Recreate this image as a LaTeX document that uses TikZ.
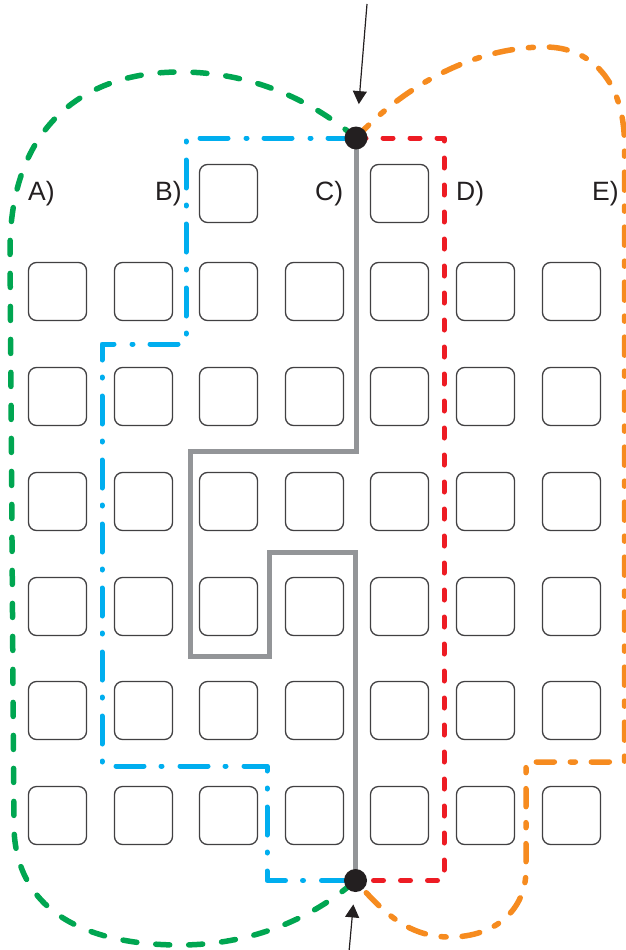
\documentclass[tikz,border=0pt]{standalone}
\usepackage{fontspec}
\setmainfont{Liberation Sans}
\usetikzlibrary{arrows.meta}
\definecolor{pgreen}{HTML}{00A651}
\definecolor{pblue}{HTML}{00AEEF}
\definecolor{pred}{HTML}{ED1C24}
\definecolor{porange}{HTML}{F68B1F}
\definecolor{pgray}{HTML}{939598}
\definecolor{pdark}{HTML}{231F20}
\definecolor{pbox}{HTML}{414042}
\tikzset{
  seat/.style={draw=pbox, line width=1.3pt, rounded corners=8pt, minimum size=58pt, inner sep=0pt},
  lbl/.style={anchor=base west, inner sep=0pt, text=pdark, font=\fontsize{26.5}{30}\selectfont},
  junction/.style={circle, fill=pdark, minimum size=23pt, inner sep=0pt},
  greenpath/.style={draw=pgreen, line width=5.5pt, line cap=round, dash pattern=on 14pt off 19pt},
  bluepath/.style={draw=pblue, line width=5pt, line cap=round, line join=round, dash pattern=on 28pt off 17pt on 1pt off 18pt},
  redpath/.style={draw=pred, line width=5pt, line cap=round, line join=round, dash pattern=on 10pt off 17pt},
  orangepath/.style={draw=porange, line width=5.5pt, line cap=round, line join=round, dash pattern=on 18pt off 16pt on 5pt off 16pt},
  graypath/.style={draw=pgray, line width=5pt, line join=miter},
  pointer/.style={draw=pdark, line width=1.2pt, -{Triangle[width=14pt,length=13pt]}},
}
\begin{document}
\begin{tikzpicture}[x=1pt,y=-1pt]
\useasboundingbox (0,0) rectangle (626,950);
\clip (0,0) rectangle (626,950);

% seats
\foreach \r/\y in {1/262,2/367,3/472,4/577,5/681,6/786}{
  \foreach \c/\x in {1/28,2/114,3/199,4/285,5/370,6/456,7/542}{
    \node[seat] (s\r\c) at (\x+29.5,\y+29.5) {};
  }
}
\node[seat] (s03) at (228.5,193.5) {};
\node[seat] (s05) at (399.5,193.5) {};

% labels
\node[lbl] (la) at (28,200) {A)};
\node[lbl] (lb) at (155,200) {B)};
\node[lbl] (lc) at (315,200) {C)};
\node[lbl] (ld) at (456,200) {D)};
\node[lbl] (le) at (592,200) {E)};

% junctions (positions)
\coordinate (topc) at (356,138);
\coordinate (botc) at (355.5,880.5);

% gray path C
\draw[graypath] (topc) -- (356,451) -- (190,451) -- (190,656) -- (269,656) -- (269,552) -- (355.5,552) -- (botc);

% blue path B
\draw[bluepath] (topc) -- (186,138) -- (186,344) -- (102,344) -- (102,766) -- (267,766) -- (267,880.5) -- (botc);

% red path D
\draw[redpath] (topc) -- (444,138) -- (444,880.5) -- (botc);

% green path A
\draw[greenpath] (topc) .. controls (305,95) and (245,72) .. (180,72)
  .. controls (80,72) and (10,130) .. (10,250)
  -- (14,830)
  .. controls (18,920) and (100,945) .. (180,945)
  .. controls (260,945) and (320,912) .. (botc);

% orange path E
\draw[orangepath] (topc) .. controls (400,90) and (470,47) .. (545,47)
  .. controls (590,47) and (624.5,80) .. (624.5,145)
  -- (624.5,762) -- (526,762) -- (526,870)
  .. controls (526,910) and (495,937) .. (450,937)
  .. controls (410,937) and (385,915) .. (botc);

% junction dots
\node[junction] (top) at (topc) {};
\node[junction] (bot) at (botc) {};

% pointers
\coordinate (ta) at (367,4);
\coordinate (ba) at (349,952);
\draw[pointer, shorten >=34pt] (ta) -- (top.center);
\draw[pointer, shorten >=24pt] (ba) -- (bot.center);
\end{tikzpicture}
\end{document}
